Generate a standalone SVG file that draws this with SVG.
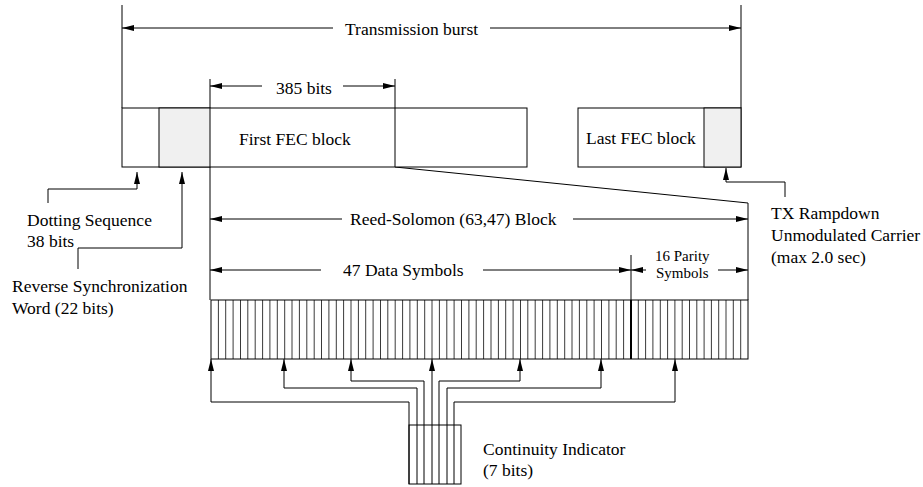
<svg xmlns="http://www.w3.org/2000/svg" width="923" height="487" viewBox="0 0 923 487">
<defs>
<marker id="ah" viewBox="0 0 12 6" refX="12" refY="3" markerWidth="12" markerHeight="6" markerUnits="userSpaceOnUse" orient="auto">
<path d="M0,0 L12,3 L0,6 z" fill="#000"/>
</marker>
</defs>
<style>
text{font-family:"Liberation Serif","Times New Roman",serif;font-size:17.5px;fill:#000}
.small{font-size:15px}
.ln{fill:none;stroke:#000;stroke-width:1}
.ar{fill:none;stroke:#000;stroke-width:1;marker-end:url(#ah)}
.box{fill:#fff;stroke:#000;stroke-width:1}
.gray{fill:#f0f0f0;stroke:#000;stroke-width:1}
.cell{fill:none;stroke:#3a3a3a;stroke-width:1}
</style>
<rect width="923" height="487" fill="#fff"/>

<g id="connectors">
<line class="ln" x1="122" y1="5" x2="122" y2="108"/>
<line class="ln" x1="741" y1="5" x2="741" y2="108"/>
<line class="ar" x1="333" y1="28" x2="122" y2="28"/>
<line class="ar" x1="490" y1="28" x2="741" y2="28"/>
<line class="ln" x1="210" y1="79" x2="210" y2="300"/>
<line class="ln" x1="395" y1="79" x2="395" y2="167"/>
<line class="ar" x1="262" y1="86" x2="210" y2="86"/>
<line class="ar" x1="343" y1="86" x2="395" y2="86"/>
<polyline class="ln" points="395,167 748,203 748,300"/>
<line class="ar" x1="342" y1="219" x2="210" y2="219"/>
<line class="ar" x1="573" y1="219" x2="748" y2="219"/>
<line class="ar" x1="321" y1="270" x2="210" y2="270"/>
<line class="ar" x1="483" y1="270" x2="631" y2="270"/>
<line class="ln" x1="631" y1="255" x2="631" y2="300"/>
<line class="ar" x1="646" y1="270" x2="631" y2="270"/>
<line class="ar" x1="718" y1="270" x2="748" y2="270"/>
<polyline class="ar" points="48,203 48,189 137,189 137,172"/>
<polyline class="ar" points="78,269 78,248 182,248 182,172"/>
<polyline class="ar" points="785,197 785,182 726,182 726,168"/>
<polyline class="ar" points="409,484 409,402 211,402 211,359"/>
<polyline class="ar" points="417,484 417,388 284,388 284,359"/>
<polyline class="ar" points="424,484 424,381 351,381 351,359"/>
<polyline class="ar" points="432,484 432,359"/>
<polyline class="ar" points="439,484 439,381 520,381 520,359"/>
<polyline class="ar" points="447,484 447,388 601,388 601,359"/>
<polyline class="ar" points="454,484 454,402 675,402 675,359"/>
</g>

<g id="first-fec">
<rect class="box" x="122" y="108" width="405" height="59"/>
<rect class="gray" x="159" y="108" width="51" height="59"/>
<line class="ln" x1="395" y1="108" x2="395" y2="167"/>
<text x="239" y="145">First FEC block</text>
</g>

<g id="last-fec">
<rect class="box" x="578" y="108" width="163" height="59"/>
<rect class="gray" x="704" y="108" width="37" height="59"/>
<text x="586" y="144">Last FEC block</text>
</g>

<g id="symbols">
<path class="cell" d="M218.4,300V359M225.7,300V359M233.1,300V359M240.5,300V359M247.8,300V359M255.2,300V359M262.6,300V359M269.9,300V359M277.3,300V359M284.7,300V359M292,300V359M299.4,300V359M306.8,300V359M314.2,300V359M321.5,300V359M328.9,300V359M336.3,300V359M343.6,300V359M351,300V359M358.4,300V359M365.7,300V359M373.1,300V359M380.5,300V359M387.8,300V359M395.2,300V359M402.6,300V359M409.9,300V359M417.3,300V359M424.7,300V359M432,300V359M439.4,300V359M446.8,300V359M454.1,300V359M461.5,300V359M468.9,300V359M476.2,300V359M483.6,300V359M491,300V359M498.4,300V359M505.7,300V359M513.1,300V359M520.5,300V359M527.8,300V359M535.2,300V359M542.6,300V359M549.9,300V359M557.3,300V359M564.7,300V359M572,300V359M579.4,300V359M586.8,300V359M594.1,300V359M601.5,300V359M608.9,300V359M616.2,300V359M623.6,300V359M638.3,300V359M645.6,300V359M652.9,300V359M660.3,300V359M667.6,300V359M674.9,300V359M682.2,300V359M689.5,300V359M696.8,300V359M704.1,300V359M711.4,300V359M718.7,300V359M726,300V359M733.3,300V359M740.7,300V359"/>
<rect x="211" y="300" width="537" height="59" fill="none" stroke="#000" stroke-width="1"/>
<line x1="631" y1="300" x2="631" y2="359" stroke="#000" stroke-width="2"/>
</g>

<g id="continuity-box">
<rect x="409" y="425" width="52" height="59" fill="none" stroke="#000" stroke-width="1"/>
<text x="483" y="455">Continuity Indicator</text>
<text x="483" y="476">(7 bits)</text>
</g>

<g id="labels">
<text x="345" y="35">Transmission burst</text>
<text x="276" y="94">385 bits</text>
<text x="350" y="225">Reed-Solomon (63,47) Block</text>
<text x="343" y="276">47 Data Symbols</text>
<text class="small" x="655" y="261">16 Parity</text>
<text class="small" x="656" y="278">Symbols</text>
<text x="27" y="226">Dotting Sequence</text>
<text x="27" y="247">38 bits</text>
<text x="12" y="292">Reverse Synchronization</text>
<text x="12" y="314">Word (22 bits)</text>
<text x="771" y="219">TX Rampdown</text>
<text x="771" y="241">Unmodulated Carrier</text>
<text x="771" y="263">(max 2.0 sec)</text>
</g>
</svg>
